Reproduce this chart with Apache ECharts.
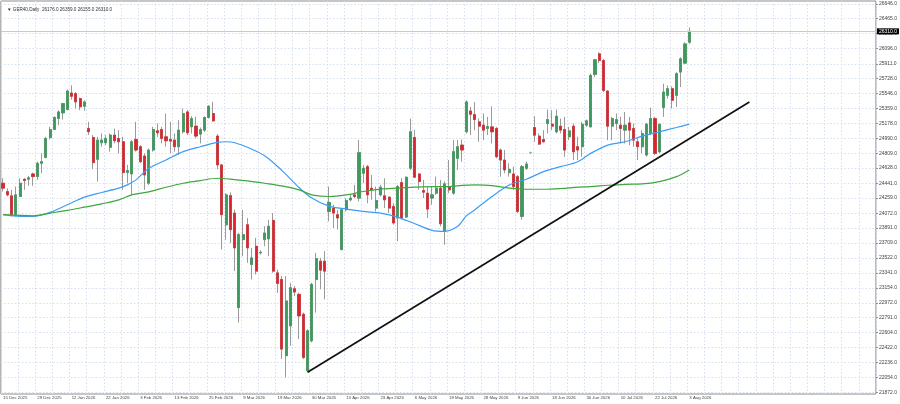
<!DOCTYPE html>
<html>
<head>
<meta charset="utf-8">
<script src="https://cdn.jsdelivr.net/npm/echarts@6/dist/echarts.min.js"></script>
<style>
html, body { margin: 0; padding: 0; background: #ffffff; }
#chart { width: 900px; height: 404px; }
</style>
</head>
<body>
<div id="chart"></div>
<script>
var symbolName = 'GER40,Daily';

// one label every 8 bars
var dateLabels = ['15 Dec 2025', '29 Dec 2025', '12 Jan 2026', '22 Jan 2026', '3 Feb 2026', '13 Feb 2026',
    '25 Feb 2026', '9 Mar 2026', '19 Mar 2026', '30 Mar 2026', '13 Apr 2026', '23 Apr 2026', '6 May 2026',
    '18 May 2026', '28 May 2026', '9 Jun 2026', '18 Jun 2026', '30 Jun 2026', '10 Jul 2026', '22 Jul 2026',
    '3 Aug 2026'];

var yTicks = [21872, 22054, 22236, 22422, 22604, 22791, 22972, 23154, 23341, 23522, 23709, 23891, 24072,
    24259, 24441, 24628, 24809, 24990, 25178, 25359, 25546, 25728, 25911, 26096, 26283, 26465, 26646];

var opens = [24442, 24340, 24287, 24055, 24279, 24491, 24491, 24556, 24524, 24687,
    24760, 25005, 25103, 25238, 25307, 25348, 25552, 25544, 25483, 25389,
    25115, 25005, 24736, 24940, 24940, 24883, 25034, 24993, 24952, 24573,
    24556, 24981, 24891, 24777, 24442, 24850, 25087, 25103, 25013, 24981,
    24973, 24891, 25075, 25319, 25136, 25144, 25046, 25095, 25250, 25299,
    25022, 24667, 23930, 24290, 24075, 22912, 23749, 23932, 23443, 23667,
    23585, 23749, 23757, 23985, 23340, 23259, 22321, 22688, 23145, 23075,
    22831, 22137, 22504, 23259, 23483, 23483, 24095, 24136, 24055, 23626,
    24116, 24238, 24299, 24259, 24565, 24646, 24381, 24136, 24299, 24287,
    24271, 24157, 24014, 24450, 24026, 24626, 25005, 24556, 24352, 24320,
    24259, 24320, 24381, 23851, 24401, 24320, 24748, 24911, 25075, 25331,
    25286, 25197, 25156, 25115, 25135, 25115, 24850, 24727, 24572, 24556,
    24523, 24034, 24625, 24817, 25127, 25021, 24980, 25176, 25168, 25074,
    25144, 25103, 25013, 25144, 24891, 24891, 25156, 25135, 25780, 26033,
    25951, 25576, 25144, 25176, 25156, 25095, 25184, 25115, 24952, 24891,
    24789, 25054, 25237, 24829, 25372, 25523, 25605, 25523, 25809, 25919,
    26176];
var highs = [24503, 24381, 24361, 24401, 24503, 24503, 24532, 24573, 24707, 24809,
    25013, 25136, 25266, 25340, 25430, 25593, 25646, 25564, 25495, 25462,
    25197, 25034, 25013, 25054, 25034, 25054, 25115, 25095, 25013, 24667,
    24973, 25197, 24911, 24809, 24871, 25136, 25177, 25136, 25299, 25197,
    25054, 25218, 25360, 25340, 25266, 25258, 25128, 25266, 25401, 25442,
    25046, 24679, 24320, 24330, 24116, 23830, 24116, 24014, 23647, 23769,
    23618, 23912, 23993, 24075, 23381, 23300, 23300, 23218, 23177, 23096,
    22851, 22647, 23218, 23585, 23524, 23606, 24401, 24177, 24116, 24136,
    24259, 24299, 24422, 24973, 24667, 24667, 24544, 24401, 24422, 24503,
    24279, 24197, 24422, 24503, 24524, 25238, 25095, 24565, 24483, 24401,
    24401, 24524, 24483, 24463, 24728, 24973, 24973, 24981, 25462, 25380,
    25441, 25238, 25299, 25258, 25388, 25135, 24870, 24850, 24687, 24646,
    24544, 24666, 24707, 24830, 25266, 25054, 25095, 25348, 25339, 25348,
    25237, 25258, 25135, 25176, 25013, 25197, 25225, 25788, 25972, 26053,
    25972, 25584, 25258, 25299, 25258, 25319, 25258, 25176, 24993, 25095,
    25184, 25372, 25258, 25176, 25666, 25645, 25633, 25809, 25992, 26176,
    26359];
var lows = [24340, 24279, 24034, 24034, 24271, 24361, 24410, 24410, 24483, 24565,
    24748, 24981, 25095, 25156, 25226, 25340, 25470, 25360, 25340, 25332,
    25034, 24614, 24463, 24891, 24911, 24830, 24932, 24809, 24361, 24442,
    24299, 24830, 24687, 24361, 24422, 24830, 25013, 24932, 24891, 24809,
    24830, 24789, 25054, 25034, 25054, 24993, 24932, 25075, 25238, 25197,
    24614, 23626, 23749, 23708, 23361, 22729, 23545, 23463, 23259, 23320,
    23565, 23667, 23545, 23340, 23096, 22280, 22055, 22443, 23055, 22525,
    22280, 22117, 22484, 22851, 23137, 23014, 23973, 23891, 23871, 23618,
    24095, 24218, 24259, 24218, 24442, 24197, 24238, 24095, 24279, 24136,
    24075, 23932, 23728, 23993, 24014, 24605, 24503, 24361, 24259, 24014,
    24177, 24299, 23912, 23687, 24320, 24299, 24605, 24707, 25054, 25034,
    25095, 24952, 24972, 25034, 24931, 24748, 24523, 24564, 24523, 24360,
    24075, 23993, 24605, 24805, 24952, 24911, 24940, 25054, 25095, 25054,
    25054, 24768, 24972, 24727, 24727, 24768, 25135, 25127, 25747, 25919,
    25564, 24972, 24972, 25095, 24931, 24931, 24911, 24891, 24727, 24809,
    24768, 25034, 24789, 24809, 25258, 25482, 25360, 25380, 25625, 25911,
    26155];
var closes = [24381, 24299, 24055, 24299, 24442, 24475, 24508, 24524, 24687, 24707,
    24993, 25103, 25250, 25319, 25421, 25576, 25511, 25442, 25381, 25442,
    25075, 24695, 24973, 24973, 24993, 25034, 24964, 24952, 24573, 24597,
    24952, 24850, 24707, 24544, 24850, 25103, 25062, 24993, 24964, 24960,
    24891, 25095, 25299, 25062, 25238, 25022, 25103, 25250, 25389, 25209,
    24667, 24055, 24299, 23871, 23647, 23810, 23810, 23647, 23524, 23361,
    23594, 23830, 23912, 23361, 23210, 22402, 22994, 23157, 23104, 22810,
    22300, 22627, 23198, 23516, 23373, 23361, 24206, 24075, 24014, 24116,
    24230, 24259, 24279, 24818, 24626, 24299, 24361, 24230, 24393, 24238,
    24136, 23953, 24401, 24014, 24516, 25075, 24516, 24463, 24332, 24124,
    24299, 24381, 23944, 24434, 24361, 24830, 24891, 24850, 25442, 25290,
    25225, 25144, 25095, 25140, 25074, 24768, 24727, 24605, 24613, 24401,
    24095, 24646, 24678, 24817, 25033, 24923, 24952, 25225, 25144, 25266,
    25095, 24850, 25086, 24829, 24850, 25168, 25209, 25768, 25960, 25951,
    25584, 25144, 25237, 25225, 25115, 25156, 25095, 24972, 24891, 25054,
    25168, 25237, 24809, 25168, 25564, 25605, 25462, 25788, 25972, 26155,
    26310];

// moving averages at every few bars: [bar index, price]
var fastMa = [[0, 24055], [4, 24034], [7, 24034], [11, 24083], [15, 24177], [19, 24271], [23, 24328],
    [27, 24381], [29, 24422], [31, 24483], [34, 24626], [38, 24728], [42, 24830], [46, 24891], [50, 24944],
    [52, 24952], [54, 24940], [57, 24885], [61, 24780], [65, 24600], [69, 24390], [72, 24260], [76, 24160],
    [80, 24124], [84, 24095], [88, 24075], [92, 24026], [96, 23944], [100, 23863], [103, 23851], [106, 23912],
    [108, 24040], [110, 24116], [114, 24279], [118, 24421], [122, 24491], [126, 24585], [130, 24646],
    [134, 24707], [137, 24809], [141, 24911], [145, 24952], [149, 25021], [153, 25074], [157, 25127], [160, 25168]];
var slowMa = [[0, 24055], [7, 24042], [11, 24075], [15, 24108], [19, 24148], [23, 24189], [27, 24238],
    [30, 24299], [34, 24336], [38, 24393], [42, 24442], [46, 24475], [50, 24503], [54, 24487], [57, 24471],
    [61, 24442], [65, 24410], [69, 24361], [72, 24299], [76, 24279], [80, 24299], [84, 24340], [88, 24369],
    [92, 24381], [96, 24393], [100, 24401], [104, 24401], [107, 24415], [110, 24421], [114, 24413],
    [118, 24381], [122, 24368], [126, 24368], [130, 24377], [134, 24393], [137, 24401], [141, 24417],
    [145, 24429], [149, 24433], [153, 24462], [157, 24523], [160, 24605]];

var trendLine = [[71, 22117], [174, 25440]];

var slots = 204; // bars + empty space on the right
var bullColor = '#3c9b5c';
var bearColor = '#d9262e';
var wickColor = '#9a9a9a';
var gridColor = '#d5dfee';

var xCats = [];
for (var i = 0; i < slots; i++) xCats.push(String(i));

var wickData = [], bodyData = [];
for (var k = 0; k < opens.length; k++) {
    wickData.push([opens[k], closes[k], lows[k], highs[k]]);
    bodyData.push([opens[k], closes[k], Math.min(opens[k], closes[k]), Math.max(opens[k], closes[k])]);
}
var last = opens.length - 1;
var lastPrice = closes[last];
var titleText = '\u25BC ' + symbolName + '  ' + opens[last].toFixed(1) + ' ' + highs[last].toFixed(1) + ' ' +
    lows[last].toFixed(1) + ' ' + closes[last].toFixed(1);

var chartDom = document.getElementById('chart');
var myChart = echarts.init(chartDom);
var option;

option = {
    animation: false,
    backgroundColor: '#ffffff',
    title: {
        text: titleText,
        left: 2,
        top: 2,
        textStyle: { color: '#333333', fontSize: 4.6, fontWeight: 'normal', fontFamily: 'Liberation Sans' }
    },
    grid: {
        left: 0,
        right: 23,
        top: 1,
        bottom: 10,
        show: true,
        borderColor: '#8c8c8c',
        borderWidth: 1
    },
    xAxis: {
        type: 'category',
        data: xCats,
        boundaryGap: true,
        axisLine: { show: false },
        axisTick: { show: false },
        axisLabel: {
            interval: function (idx) { return idx % 8 === 0; },
            formatter: function (v, idx) { return idx % 8 === 0 ? (dateLabels[idx / 8] || '') : ''; },
            align: 'left',
            margin: 2,
            color: '#444444',
            fontSize: 4.3,
            fontFamily: 'Liberation Sans'
        },
        splitLine: {
            show: true,
            interval: function (idx) { return idx % 4 === 0; },
            lineStyle: { color: gridColor, type: [1.5, 2], width: 1 }
        }
    },
    yAxis: {
        type: 'value',
        position: 'right',
        min: 21850,
        max: 26683,
        axisLine: { show: false },
        axisTick: { show: true, length: 2, customValues: yTicks, lineStyle: { color: '#8c8c8c' } },
        axisLabel: {
            customValues: yTicks,
            formatter: function (v) { return v.toFixed(1); },
            margin: 3,
            color: '#444444',
            fontSize: 5,
            fontFamily: 'Liberation Sans'
        },
        splitLine: {
            show: true,
            lineStyle: { color: gridColor, type: [1.5, 2], width: 1 }
        }
    },
    series: [{
        name: 'wicks',
        type: 'candlestick',
        data: wickData,
        barWidth: 2.6,
        itemStyle: {
            color: wickColor, color0: wickColor,
            borderColor: wickColor, borderColor0: wickColor, borderColorDoji: wickColor,
            borderWidth: 1
        },
        markLine: {
            silent: true,
            symbol: 'none',
            data: [{ yAxis: lastPrice }],
            lineStyle: { color: '#bccbe2', type: 'solid', width: 1 },
            label: {
                show: true,
                position: 'end',
                distance: 1,
                formatter: function (p) { return p.value.toFixed(1); },
                color: '#ffffff',
                backgroundColor: '#000000',
                padding: [0.5, 2],
                fontSize: 5,
                fontFamily: 'Liberation Sans'
            }
        }
    }, {
        name: 'bodies',
        type: 'candlestick',
        data: bodyData,
        barWidth: 2.6,
        itemStyle: {
            color: bullColor, color0: bearColor,
            borderColor: bullColor, borderColor0: bearColor, borderColorDoji: '#7fcf8f',
            borderWidth: 0.6
        }
    }, {
        name: 'MA fast',
        type: 'line',
        data: fastMa,
        smooth: 0.3,
        symbol: 'none',
        lineStyle: { color: '#3d9df5', width: 1.2 }
    }, {
        name: 'MA slow',
        type: 'line',
        data: slowMa,
        smooth: 0.3,
        symbol: 'none',
        lineStyle: { color: '#3fa63f', width: 1.2 }
    }, {
        name: 'trend',
        type: 'line',
        data: trendLine,
        symbol: 'none',
        lineStyle: { color: '#111111', width: 1.7 },
        z: 5
    }]
};

option && myChart.setOption(option);
</script>
</body>
</html>
